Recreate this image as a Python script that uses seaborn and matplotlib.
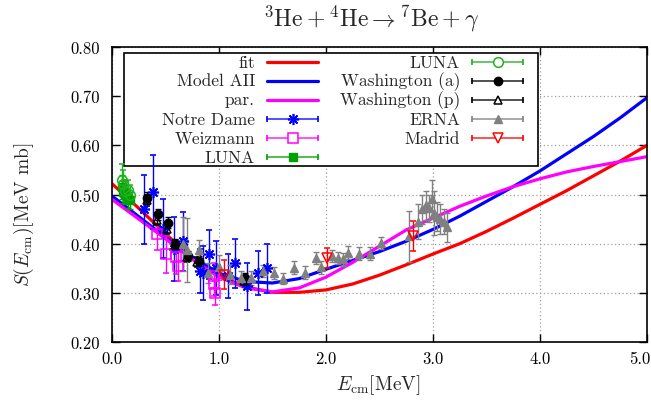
import matplotlib
matplotlib.use("Agg")
import matplotlib.pyplot as plt
import matplotlib.transforms as mtransforms
import seaborn as sns
import numpy as np
import pandas as pd
from matplotlib.patches import Rectangle
from matplotlib.lines import Line2D

# ---------------- data ----------------
energy_grid = [0.0, 0.25, 0.5, 0.75, 1.0, 1.25, 1.5, 1.75, 2.0, 2.25, 2.5,
               2.75, 3.0, 3.25, 3.5, 3.75, 4.0, 4.25, 4.5, 4.75, 5.0]
fit_S = [0.522, 0.472, 0.420, 0.372, 0.335, 0.312, 0.301, 0.301, 0.306, 0.318, 0.336,
         0.357, 0.379, 0.400, 0.425, 0.452, 0.480, 0.508, 0.538, 0.568, 0.600]
model_aii_S = [0.497, 0.455, 0.413, 0.373, 0.340, 0.323, 0.320, 0.329, 0.348, 0.366, 0.384,
               0.405, 0.429, 0.456, 0.486, 0.516, 0.548, 0.583, 0.618, 0.656, 0.697]
par_S = [0.490, 0.450, 0.410, 0.368, 0.332, 0.310, 0.302, 0.310, 0.332, 0.362, 0.395,
         0.428, 0.452, 0.476, 0.497, 0.516, 0.532, 0.546, 0.557, 0.567, 0.577]

notre_dame_E = [0.30, 0.38, 0.48, 0.58, 0.66, 0.82, 0.85, 0.91, 0.97, 1.08, 1.15, 1.26, 1.36, 1.45]
notre_dame_S = [0.470, 0.505, 0.430, 0.390, 0.405, 0.345, 0.340, 0.378, 0.350, 0.335, 0.360, 0.313, 0.340, 0.350]
notre_dame_err = [0.070, 0.075, 0.060, 0.065, 0.060, 0.045, 0.055, 0.050, 0.055, 0.045, 0.050, 0.048, 0.045, 0.050]

weizmann_E = [0.42, 0.50, 0.60, 0.62, 0.95, 0.95, 0.96]
weizmann_S = [0.420, 0.378, 0.373, 0.355, 0.335, 0.318, 0.300]
weizmann_err = [0.032, 0.037, 0.035, 0.030, 0.025, 0.025, 0.025]

luna_act_E = [0.093, 0.106, 0.126, 0.148, 0.170]
luna_act_S = [0.515, 0.505, 0.500, 0.492, 0.488]
luna_act_err = [0.025, 0.022, 0.020, 0.020, 0.018]

luna_prompt_E = [0.093, 0.106, 0.126, 0.148, 0.170]
luna_prompt_S = [0.530, 0.522, 0.508, 0.510, 0.500]
luna_prompt_err = [0.032, 0.028, 0.022, 0.020, 0.020]

wash_a_E = [0.33, 0.43, 0.52, 0.585, 0.71, 0.81, 1.24]
wash_a_S = [0.493, 0.460, 0.443, 0.400, 0.375, 0.365, 0.330]
wash_a_err = [0.012, 0.011, 0.011, 0.010, 0.010, 0.010, 0.010]

wash_p_E = [0.33, 0.42, 0.51, 0.59, 0.70, 0.79, 1.23]
wash_p_S = [0.488, 0.448, 0.430, 0.398, 0.372, 0.362, 0.325]
wash_p_err = [0.012, 0.011, 0.011, 0.010, 0.010, 0.010, 0.010]

erna_E = [0.66, 0.70, 0.81, 0.90, 1.00, 1.10, 1.21, 1.30, 1.41, 1.51, 1.60, 1.70, 1.80,
          1.91, 1.95, 2.06, 2.11, 2.16, 2.21, 2.31, 2.41, 2.51, 2.78, 2.86, 2.90, 2.93,
          2.96, 2.99, 3.01, 3.04, 3.07, 3.10, 3.13]
erna_S = [0.400, 0.388, 0.388, 0.340, 0.352, 0.337, 0.330, 0.330, 0.345, 0.341, 0.329,
          0.351, 0.341, 0.371, 0.352, 0.375, 0.371, 0.368, 0.382, 0.380, 0.380, 0.401,
          0.415, 0.445, 0.470, 0.478, 0.472, 0.490, 0.462, 0.455, 0.450, 0.445, 0.433]
erna_err = [0.055, 0.065, 0.020, 0.020, 0.025, 0.020, 0.015, 0.015, 0.012, 0.012, 0.012,
            0.013, 0.013, 0.013, 0.013, 0.013, 0.013, 0.013, 0.013, 0.013, 0.013, 0.012,
            0.052, 0.035, 0.030, 0.030, 0.028, 0.040, 0.045, 0.030, 0.030, 0.025, 0.030]

madrid_E = [1.05, 2.01, 2.81]
madrid_S = [0.337, 0.371, 0.416]
madrid_err = [0.030, 0.020, 0.031]

x_ticks = [0.0, 1.0, 2.0, 3.0, 4.0, 5.0]
x_tick_labels = ["0.0", "1.0", "2.0", "3.0", "4.0", "5.0"]
y_ticks = [0.2, 0.3, 0.4, 0.5, 0.6, 0.7, 0.8]
y_tick_labels = ["0.20", "0.30", "0.40", "0.50", "0.60", "0.70", "0.80"]

# ---------------- style ----------------
sns.set_theme(style="ticks")
plt.rcParams.update({
    "font.family": "serif",
    "font.serif": ["cmr10", "DejaVu Serif"],
    "mathtext.fontset": "cm",
    "axes.formatter.use_mathtext": True,
    "axes.unicode_minus": False,
})

W, H = 651, 402
fig = plt.figure(figsize=(W / 100, H / 100), dpi=100)
AX_L, AX_R, AX_T, AX_B = 112, 647, 48, 343
ax = fig.add_axes([AX_L / W, 1 - AX_B / H, (AX_R - AX_L) / W, (AX_B - AX_T) / H])

RED = "#ff0000"
BLUE = "#0000ff"
MAG = "#ff00ff"
GREEN = "#00a000"
GREEN2 = "#20b020"
GRAY = "#808080"
BLACK = "#000000"

curves = pd.DataFrame({"E": energy_grid, "fit": fit_S, "AII": model_aii_S, "par": par_S})
sns.lineplot(data=curves, x="E", y="fit", color=RED, lw=2.3, ax=ax, zorder=3)
sns.lineplot(data=curves, x="E", y="AII", color=BLUE, lw=2.3, ax=ax, zorder=3)
sns.lineplot(data=curves, x="E", y="par", color=MAG, lw=2.3, ax=ax, zorder=3)

eb = dict(linestyle="none", capsize=2.5, elinewidth=1.0, capthick=1.0, zorder=5)

ax.errorbar(notre_dame_E, notre_dame_S, yerr=notre_dame_err, color=BLUE,
            marker=(8, 2, 0), ms=8, mew=1.2, **eb)
ax.errorbar(weizmann_E, weizmann_S, yerr=weizmann_err, color=MAG,
            marker="s", ms=6.5, mfc="none", mew=1.1, **eb)
ax.errorbar(luna_act_E, luna_act_S, yerr=luna_act_err, color=GREEN,
            marker="s", ms=6, mew=1.0, **eb)
ax.errorbar(luna_prompt_E, luna_prompt_S, yerr=luna_prompt_err, color=GREEN2,
            marker="o", ms=7, mfc="none", mew=1.1, **eb)
ax.errorbar(wash_a_E, wash_a_S, yerr=wash_a_err, color=BLACK,
            marker="o", ms=6, **eb)
ax.errorbar(wash_p_E, wash_p_S, yerr=wash_p_err, color=BLACK,
            marker="^", ms=6, mfc="none", mew=1.1, **eb)
ax.errorbar(erna_E, erna_S, yerr=erna_err, color=GRAY,
            marker="^", ms=6, **eb)
ax.errorbar(madrid_E, madrid_S, yerr=madrid_err, color=RED,
            marker="v", ms=7, mfc="none", mew=1.1, **eb)

# ---------------- axes ----------------
ax.set_xlim(0, 5)
ax.set_ylim(0.2, 0.8)
ax.set_xticks(x_ticks)
ax.set_xticklabels(x_tick_labels)
ax.set_yticks(y_ticks)
ax.set_yticklabels(y_tick_labels)
ax.tick_params(direction="in", length=6, width=1.0, top=True, right=True,
               labelsize=12, colors="black")
ax.tick_params(axis="y", pad=9)
ax.tick_params(axis="x", pad=6)
last = ax.get_xticklabels()[-1]
last.set_horizontalalignment("right")
last.set_transform(last.get_transform() + mtransforms.ScaledTranslation(3 / 100, 0, fig.dpi_scale_trans))
for s in ax.spines.values():
    s.set_linewidth(1.2)
    s.set_color("black")
    s.set_visible(True)
    s.set_zorder(10)
ax.grid(True, color="#a0a0a0", linestyle=(0, (1, 2)), linewidth=0.9, zorder=0)
ax.set_axisbelow(True)
ax.set_xlabel("")
ax.set_ylabel("")

fig.text(371 / W, 1 - 19 / H, r"$^{3}\mathrm{He} + {}^{4}\mathrm{He} \rightarrow {}^{7}\mathrm{Be} + \gamma$",
         ha="center", va="center", fontsize=17)
fig.text(378 / W, 1 - 385 / H, r"$E_{\mathrm{cm}}[\mathrm{MeV}]$", ha="center", va="center", fontsize=14)
fig.text(24 / W, 1 - 215 / H, r"$S(E_{\mathrm{cm}})[\mathrm{MeV\ mb}]$", ha="center", va="center",
         rotation=90, fontsize=14)

# ---------------- legend (gnuplot style) ----------------
def ax_xy(px, py):
    return (px - AX_L) / (AX_R - AX_L), 1 - (py - AX_T) / (AX_B - AX_T)

x0, y0 = ax_xy(124, 167)
x1, y1 = ax_xy(538, 54)
ax.add_patch(Rectangle((x0, y0), x1 - x0, y1 - y0, transform=ax.transAxes,
                       facecolor="white", edgecolor="black", lw=1.2, zorder=4))

rows_py = [63.3, 81.7, 100.7, 120.0, 139.3, 158.3]
left_entries = [
    ("fit", RED, None, False),
    ("Model AII", BLUE, None, False),
    ("par.", MAG, None, False),
    ("Notre Dame", BLUE, dict(marker=(8, 2, 0), ms=8, mew=1.2, mfc=BLUE), True),
    ("Weizmann", MAG, dict(marker="s", ms=6.5, mfc="white", mew=1.1), True),
    ("LUNA", GREEN, dict(marker="s", ms=6, mfc=GREEN), True),
]
right_entries = [
    ("LUNA", GREEN2, dict(marker="o", ms=7, mfc="white", mew=1.1), True),
    ("Washington (a)", BLACK, dict(marker="o", ms=6, mfc=BLACK), True),
    ("Washington (p)", BLACK, dict(marker="^", ms=6, mfc="white", mew=1.1), True),
    ("ERNA", GRAY, dict(marker="^", ms=6, mfc=GRAY), True),
    ("Madrid", RED, dict(marker="v", ms=7, mfc="white", mew=1.1), True),
]

def draw_entry(text_px, s0_px, s1_px, py, label, color, mk, is_err):
    tx, ty = ax_xy(text_px, py)
    ax.text(tx, ty, label, transform=ax.transAxes, ha="right", va="center",
            fontsize=12.5, zorder=6)
    sx0, _ = ax_xy(s0_px, py)
    sx1, _ = ax_xy(s1_px, py)
    if not is_err:
        ax.add_line(Line2D([sx0, sx1], [ty, ty], transform=ax.transAxes,
                           color=color, lw=2.3, zorder=6))
    else:
        ax.add_line(Line2D([sx0, sx1], [ty, ty], transform=ax.transAxes,
                           color=color, lw=1.2, alpha=0.8, zorder=6))
        ax.add_line(Line2D([sx0, sx1], [ty, ty], transform=ax.transAxes,
                           color=color, linestyle="none", marker="|", ms=5, mew=1.2,
                           zorder=6))
        ax.add_line(Line2D([(sx0 + sx1) / 2], [ty], transform=ax.transAxes,
                           color=color, linestyle="none", zorder=7, **mk))

for py, (lab, col, mk, ie) in zip(rows_py, left_entries):
    draw_entry(255, 267, 318, py, lab, col, mk, ie)
for py, (lab, col, mk, ie) in zip(rows_py, right_entries):
    draw_entry(460, 472, 523, py, lab, col, mk, ie)

fig.savefig("out.png", dpi=100)
